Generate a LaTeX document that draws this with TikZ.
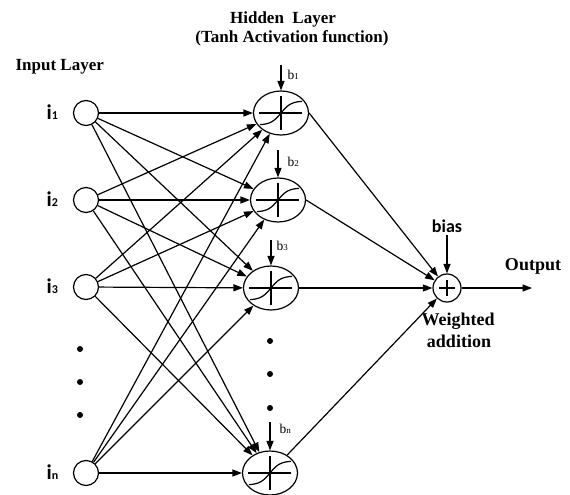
\documentclass[tikz,border=0pt]{standalone}
\usepackage{fontspec}
\setmainfont{Liberation Serif}
\newfontfamily\carl{Carlito}
\usetikzlibrary{shapes.geometric,arrows.meta}
\begin{document}
\begin{tikzpicture}[x=1pt,y=-1pt,line width=1.2pt,
  arr/.style={-{Triangle[length=9.5pt,width=7pt]}},
  inp/.style={circle,draw,minimum size=25pt,inner sep=0pt},
  hid/.style={ellipse,draw,minimum width=55pt,minimum height=44pt,inner sep=0pt},
  outn/.style={circle,draw,minimum size=28pt,inner sep=0pt},
  ttl/.style={font=\bfseries\fontsize{17}{19}\selectfont,inner sep=0pt},
  bigt/.style={font=\bfseries\fontsize{18}{22}\selectfont,inner sep=0pt},
  ilab/.style={anchor=base west,inner sep=0pt,font=\carl\bfseries},
  blab/.style={anchor=base west,inner sep=0pt},
  dotc/.style={circle,fill,minimum size=6pt,inner sep=0pt}
]
\useasboundingbox (0,0) rectangle (570,495);
% titles
\node[ttl,anchor=base] (t1) at (283,24) {Hidden\ \ Layer};
\node[ttl,anchor=base] (t2) at (292,43) {(Tanh Activation function)};
\node[ttl,anchor=base west] (t3) at (15,70.5) {Input Layer};
% input nodes
\node[inp] (x1) at (86,113) {};
\node[inp] (x2) at (86,200) {};
\node[inp] (x3) at (86,287) {};
\node[inp] (xn) at (86,473) {};
\newcommand{\ilabel}[2]{\fontsize{21}{22}\selectfont #1\fontsize{12}{13}\selectfont #2}
\node[ilab] (l1) at (46,119) {\ilabel{i}{1}};
\node[ilab] (l2) at (46,206) {\ilabel{i}{2}};
\node[ilab] (l3) at (46,293) {\ilabel{i}{3}};
\node[ilab] (ln) at (46,479) {\ilabel{i}{n}};
% input dots
\node[dotc] (d1) at (80,349) {};
\node[dotc] (d2) at (80,382) {};
\node[dotc] (d3) at (80,415) {};
% hidden nodes
\node[hid] (h1) at (281,113) {};
\node[hid] (h2) at (278,200) {};
\node[hid] (h3) at (271,288) {};
\node[hid] (hn) at (270,473) {};
\foreach \n in {h1,h2,h3,hn}{
  \begin{scope}[shift={(\n.center)}]
    \draw (-22,0) -- (21,0) (0,-17) -- (0,17);
    \draw plot[domain=-21:21,samples=30,smooth] (\x,{-12*tanh(\x/10)});
  \end{scope}
}
% hidden dots
\node[dotc] (e1) at (270,341) {};
\node[dotc] (e2) at (270,374) {};
\node[dotc] (e3) at (270,408) {};
% biases
\coordinate (b1s) at (281,65);
\coordinate (b2s) at (278,150);
\coordinate (b3s) at (271,240);
\coordinate (bns) at (270,422);
\draw[arr] (b1s) -- (h1.north);
\draw[arr] (b2s) -- (h2.north);
\draw[arr] (b3s) -- (h3.north);
\draw[arr] (bns) -- (hn.north);
\newcommand{\blabel}[1]{\fontsize{13.5}{15}\selectfont b\fontsize{9}{10}\selectfont #1}
\node[blab] (bl1) at (287,79) {\blabel{1}};
\node[blab] (bl2) at (287,166) {\blabel{2}};
\node[blab] (bl3) at (276,250) {\blabel{3}};
\node[blab] (bln) at (279,433) {\blabel{n}};
% input to hidden
\foreach \i in {x1,x2,x3,xn}
  \foreach \h in {h1,h2,h3,hn}
    \draw[arr] (\i) -- (\h);
% output node
\node[outn] (o) at (447,288) {};
\draw (o.center) ++(-8,0) -- ++(16,0) (o.center) ++(0,-8) -- ++(0,16);
\draw[arr] (h1.east) -- (o);
\draw[arr] (h2.east) -- (o);
\draw[arr] (h3.east) -- (o);
\draw[arr] (hn) -- (o);
\coordinate (bos) at (447,235);
\draw[arr] (bos) -- (o.north);
\node[anchor=base,inner sep=0pt,font=\carl\bfseries\fontsize{18}{20}\selectfont] (bias) at (447,232) {bias};
\coordinate (oend) at (532,288);
\draw[arr] (o.east) -- (oend);
\node[bigt,anchor=base] (outl) at (533,270) {Output};
\node[bigt,anchor=base] (w1) at (458,325) {Weighted};
\node[bigt,anchor=base] (w2) at (459,347) {addition};
\end{tikzpicture}
\end{document}
